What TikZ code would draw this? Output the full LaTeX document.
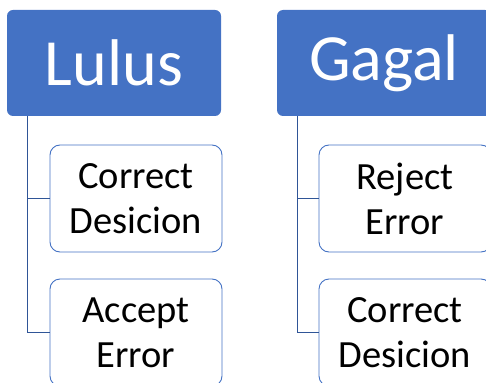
\documentclass[tikz,border=0pt]{standalone}
\usepackage{fontspec}
\setmainfont{Carlito}
\definecolor{hdrblue}{HTML}{4472C4}
\definecolor{linkblue}{HTML}{2F5597}
\tikzset{
  header/.style={fill=hdrblue, text=white, rounded corners=6pt,
    minimum width=214pt, minimum height=106pt, inner sep=0pt,
    font=\fontsize{66}{79}\selectfont},
  item/.style={draw=hdrblue, line width=0.9pt, fill=white, rounded corners=10pt,
    minimum width=172pt, minimum height=107pt, inner sep=0pt, align=center,
    font=\fontsize{38.5}{45}\selectfont},
  link/.style={draw=linkblue, line width=0.9pt}
}
\begin{document}
\begin{tikzpicture}[x=1pt,y=1pt]
\path[use as bounding box, clip] (0,0) rectangle (486,-382);

\node[header] (lulus) at (114,-63) {Lulus};
\node[item] (correctA) at (136,-198.5) {Correct\\Desicion};
\node[item] (acceptErr) at (136,-332.5) {Accept\\Error};

\node[header] (gagal) at (384,-63) {Gagal};
\node[item] (rejectErr) at (405,-198.5) {Reject\\Error};
\node[item] (correctB) at (405,-332.5) {Correct\\Desicion};

% connectors
\draw[link] ([xshift=21pt]lulus.south west) |- (correctA.west);
\draw[link] ([xshift=21pt]lulus.south west) |- (acceptErr.west);
\draw[link] ([xshift=21pt]gagal.south west) |- (rejectErr.west);
\draw[link] ([xshift=21pt]gagal.south west) |- (correctB.west);

\end{tikzpicture}
\end{document}
